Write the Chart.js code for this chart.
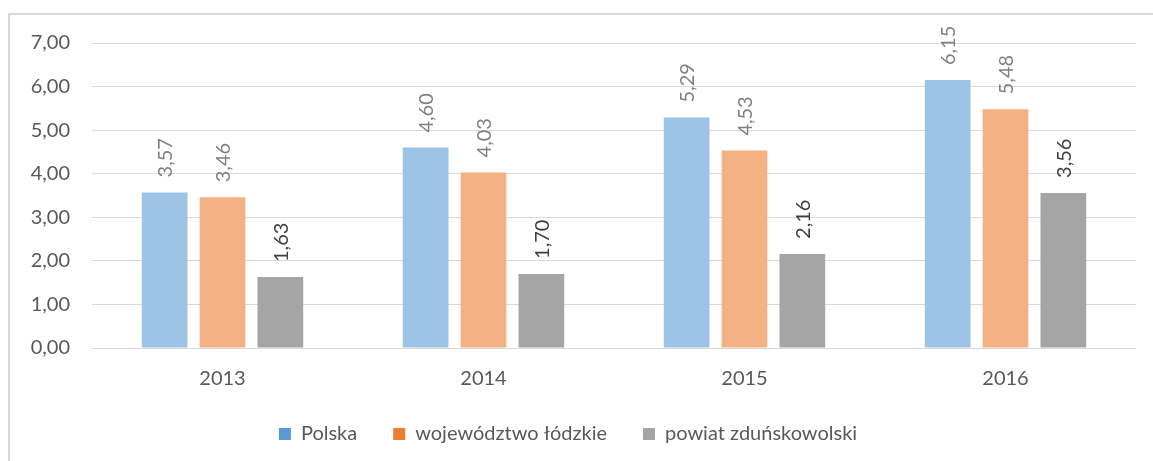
<!DOCTYPE html>
<html>
<head>
<meta charset="utf-8">
<script src="https://cdn.jsdelivr.net/npm/chart.js@4/dist/chart.umd.min.js"></script>
<style>
  html, body { margin: 0; padding: 0; background: #fff; }
  #wrap { position: relative; width: 1153px; height: 461px; overflow: hidden; }
  #frame { position: absolute; left: 8px; top: 13px; width: 1300px; height: 600px;
           border-left: 2px solid #d9d9d9; border-top: 2px solid #d9d9d9; }
  canvas { position: absolute; left: 0; top: 0; }
</style>
</head>
<body>
<div id="wrap">
  <div id="frame"></div>
  <canvas id="myChart" width="1153" height="461"></canvas>
</div>
<script>
const years = ['2013', '2014', '2015', '2016'];
const seriesNames = ['Polska', 'województwo łódzkie', 'powiat zduńskowolski'];
const polska = [3.57, 4.60, 5.29, 6.15];
const lodzkie = [3.46, 4.03, 4.53, 5.48];
const zdunskowolski = [1.63, 1.70, 2.16, 3.56];
const yTicks = [0, 1, 2, 3, 4, 5, 6, 7];

const barColors = ['#9dc3e6', '#f4b183', '#a5a5a5'];
const legendColors = ['#5b9bd5', '#ed7d31', '#a5a5a5'];
const labelColors = ['#808080', '#808080', '#404040'];
const fontFam = 'Lato, "Open Sans", sans-serif';

function fmt(v) {
    return v.toFixed(2).replace('.', ',');
}

// etykiety wartości obrócone pionowo nad słupkami
const valueLabels = {
    id: 'valueLabels',
    afterDatasetsDraw(chart) {
        const c = chart.ctx;
        chart.data.datasets.forEach((ds, i) => {
            const meta = chart.getDatasetMeta(i);
            meta.data.forEach((bar, j) => {
                c.save();
                c.translate(bar.x + 1, bar.y - 15);
                c.rotate(-Math.PI / 2);
                c.font = '20px ' + fontFam;
                c.fillStyle = labelColors[i];
                c.textAlign = 'left';
                c.textBaseline = 'middle';
                c.fillText(fmt(ds.data[j]), 0, 0);
                c.restore();
            });
        });
    }
};

const ctx = document.getElementById('myChart').getContext('2d');

new Chart(ctx, {
    type: 'bar',
    data: {
        labels: years,
        datasets: [polska, lodzkie, zdunskowolski].map((d, i) => ({
            label: seriesNames[i],
            data: d,
            backgroundColor: barColors[i],
            borderWidth: 0,
            barPercentage: 0.79,
            categoryPercentage: 0.665
        }))
    },
    options: {
        responsive: false,
        animation: false,
        layout: { padding: { top: 43, right: 17, left: 0, bottom: 7 } },
        plugins: {
            tooltip: { enabled: false },
            legend: {
                position: 'bottom',
                labels: {
                    boxWidth: 12,
                    boxHeight: 12,
                    padding: 36,
                    color: '#595959',
                    font: { family: fontFam, size: 20 },
                    generateLabels: (chart) => seriesNames.map((n, i) => ({
                        text: n,
                        fillStyle: legendColors[i],
                        strokeStyle: legendColors[i],
                        lineWidth: 0,
                        datasetIndex: i,
                        fontColor: '#595959'
                    }))
                }
            }
        },
        scales: {
            x: {
                grid: { display: false },
                border: { display: false },
                ticks: { color: '#595959', font: { family: fontFam, size: 20 }, padding: 11 },
                afterFit: (s) => { s.height = 40; }
            },
            y: {
                min: 0,
                max: 7,
                afterBuildTicks: (s) => { s.ticks = yTicks.map(v => ({ value: v })); },
                grid: { color: '#d9d9d9', lineWidth: 1, drawTicks: false },
                border: { display: false },
                ticks: {
                    color: '#595959',
                    font: { family: fontFam, size: 20 },
                    padding: 22,
                    callback: (v) => fmt(v)
                },
                afterFit: (s) => { s.width = 92; }
            }
        }
    },
    plugins: [valueLabels]
});
</script>
</body>
</html>
